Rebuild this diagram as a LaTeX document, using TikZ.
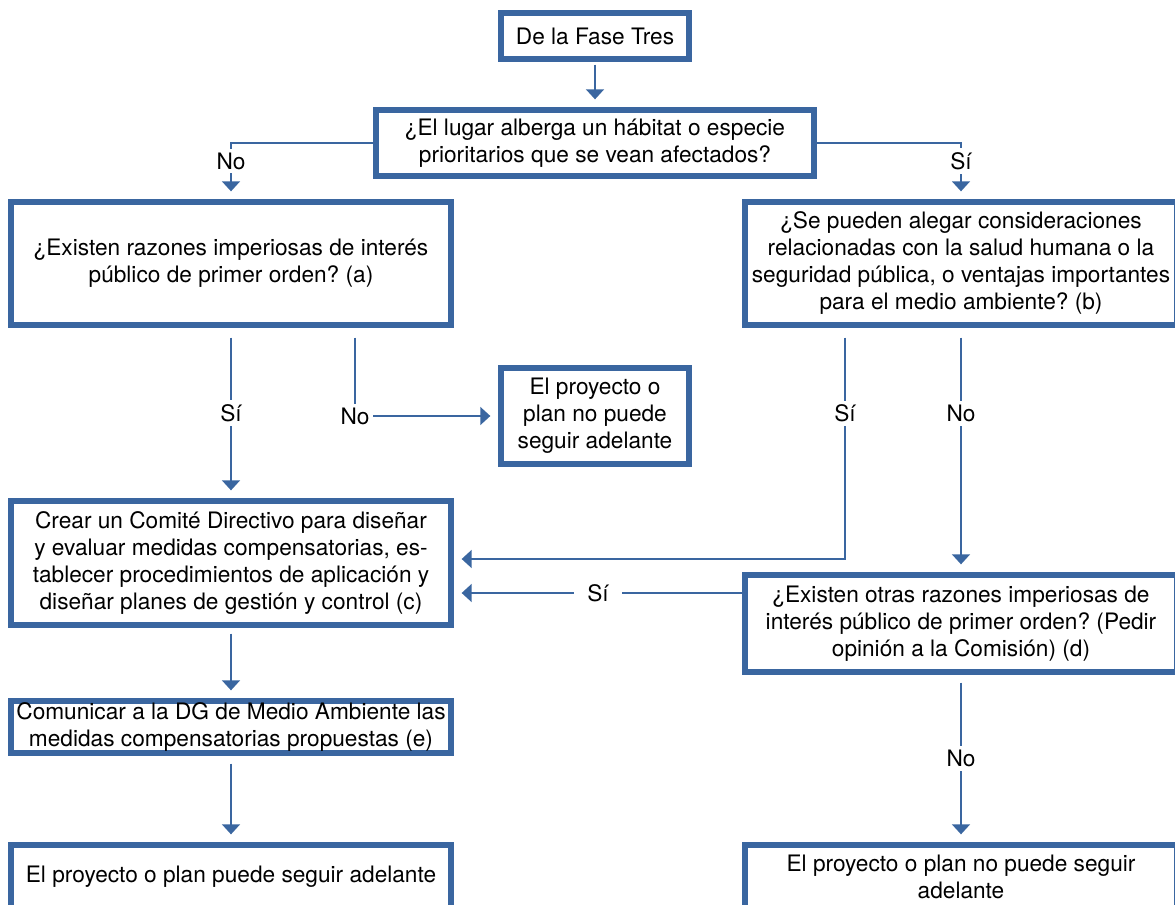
\documentclass[tikz,border=0pt]{standalone}
\usepackage{fontspec}
\setmainfont{TeX Gyre Heros}
\frenchspacing
\usetikzlibrary{arrows.meta,calc}
\definecolor{flowblue}{RGB}{58,102,160}
\tikzset{
  box/.style={draw=flowblue, line width=4pt, align=center, inner xsep=0pt, inner ysep=0pt, font=\fontsize{17}{20.25}\selectfont},
  conn/.style={draw=flowblue, line width=1.1pt},
  arr/.style={conn, -{Triangle[width=13.5pt,length=7.5pt]}, shorten >=6pt},
  lbl/.style={fill=white, inner sep=3pt, font=\fontsize{17}{20.25}\selectfont},
}
\begin{document}
\begin{tikzpicture}[x=0.75pt,y=0.75pt,yscale=-1,xscale=1]
\useasboundingbox (0,0) rectangle (1175,905);
\fill[white] (0,0) rectangle (1175,905);
\clip (0,0) rectangle (1175,905);

%Shape: Rectangle [top]
\node[box, minimum width=141pt, minimum height=34.5pt] (fase) at (595,36) {De la Fase Tres};
%Shape: Rectangle [question]
\node[box, minimum width=328.5pt, minimum height=49.5pt] (habitat) at (595,143) {¿El lugar alberga un hábitat o especie\\prioritarios que se vean afectados?};
%Shape: Rectangle [left column]
\node[box, minimum width=330pt, minimum height=92.25pt] (razones) at (231,263.5) {¿Existen razones imperiosas de interés\\público de primer orden? (a)};
\node[box, minimum width=330pt, minimum height=93pt] (comite) at (231,563) {Crear un Comité Directivo para diseñar\\y evaluar medidas compensatorias, es-\\tablecer procedimientos de aplicación y\\diseñar planes de gestión y control (c)};
\node[box, minimum width=330pt, minimum height=39pt] (comunicar) at (231,727) {Comunicar a la DG de Medio Ambiente las\\medidas compensatorias propuestas (e)};
\node[box, minimum width=330pt, minimum height=47.25pt] (puede) at (231,876.5) {El proyecto o plan puede seguir adelante};
%Shape: Rectangle [middle]
\node[box, minimum width=141pt, minimum height=72pt] (noplan) at (595,416) {El proyecto o\\plan no puede\\seguir adelante};
%Shape: Rectangle [right column]
\node[box, minimum width=324pt, minimum height=92.25pt] (salud) at (961,263.5) {¿Se pueden alegar consideraciones\\relacionadas con la salud humana o la\\seguridad pública, o ventajas importantes\\para el medio ambiente? (b)};
\node[box, minimum width=324pt, minimum height=72.75pt] (otras) at (961,623.5) {¿Existen otras razones imperiosas de\\interés público de primer orden? (Pedir\\opinión a la Comisión) (d)};
\node[box, minimum width=324pt, minimum height=47.25pt] (nopuede) at (961,876.5) {El proyecto o plan no puede seguir\\adelante};

% Connectors
\draw[arr, shorten <=2.25pt] (fase.south) -- (habitat.north);
\draw[arr] (habitat.west) -| (razones.north) node[lbl, pos=0.66] (noA) {No};
\draw[arr] (habitat.east) -| (salud.north) node[lbl, pos=0.66] (siB) {Sí};
\draw[arr, shorten <=7.5pt] (razones.south) -- (comite.north) node[lbl, midway] (siA) {Sí};
\draw[arr, shorten <=7.5pt] ($(razones.south)+(124,0)$) |- (noplan.west) node[lbl, pos=0.5] (noAA) {No};
\draw[arr, shorten <=7.5pt] ($(salud.south)+(-116,0)$) |- ($(comite.east)+(0,-4)$) node[lbl, pos=0.186] (siBB) {Sí};
\draw[arr, shorten <=7.5pt] (salud.south) -- (otras.north) node[lbl, pos=0.35] (noB) {No};
\draw[arr] ($(otras.west)+(0,-30.5)$) -- ($(comite.east)+(0,30)$) node[lbl, inner xsep=10pt, midway] (siD) {Sí};
\draw[arr, shorten <=4.5pt] (comite.south) -- (comunicar.north);
\draw[arr, shorten <=6pt] (comunicar.south) -- (puede.north);
\draw[arr, shorten <=6pt] (otras.south) -- (nopuede.north) node[lbl, midway] (noD) {No};

\end{tikzpicture}
\end{document}
